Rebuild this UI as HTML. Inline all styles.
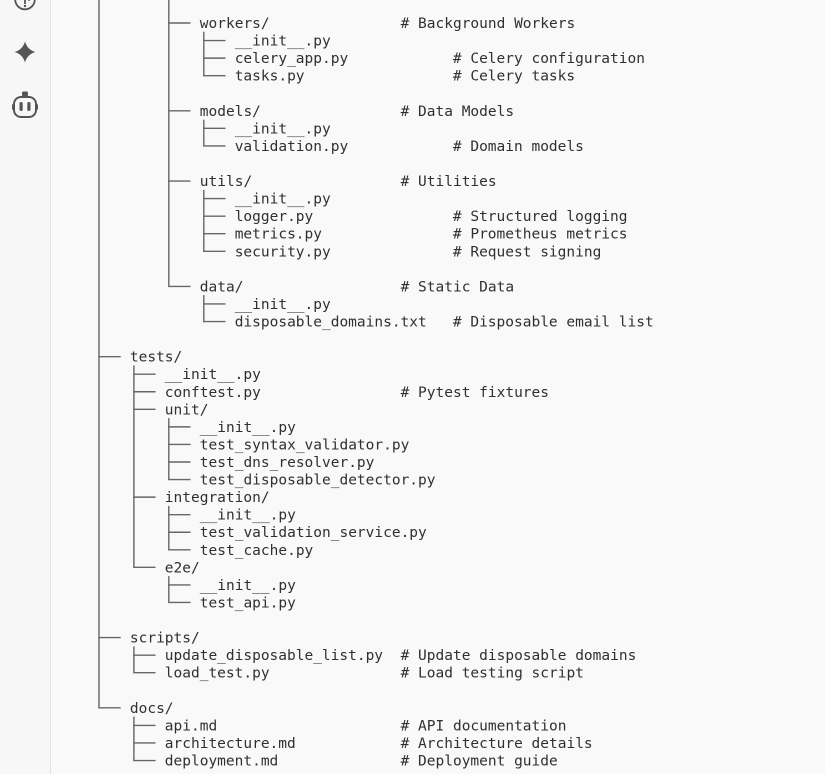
<!DOCTYPE html>
<html>
<head>
<meta charset="utf-8">
<style>
  html, body { margin:0; padding:0; }
  body { width:825px; height:774px; overflow:hidden; background:#f9f9f9; }
  svg { display:block; }
  text { font-family:"DejaVu Sans Mono","Liberation Mono",monospace; font-size:14.5px; fill:#303030; }
</style>
</head>
<body>
<svg width="825" height="774" viewBox="0 0 825 774" xmlns="http://www.w3.org/2000/svg">
  <rect x="0" y="0" width="825" height="774" fill="#f9f9f9"/>
  <!-- sidebar -->
  <rect x="0" y="0" width="50" height="774" fill="#f7f7f7"/>
  <line x1="50.5" y1="0" x2="50.5" y2="774" stroke="#e4e4e4" stroke-width="1"/>
  <!-- top icon (cut off) -->
  <circle cx="25" cy="-0.5" r="9.8" fill="none" stroke="#555" stroke-width="1.8"/>
  <line x1="25" y1="-3" x2="25" y2="4" stroke="#555" stroke-width="1.8"/>
  <circle cx="25" cy="6" r="1.2" fill="#555"/>
  <circle cx="29" cy="0" r="1" fill="#555"/>
  <!-- sparkle -->
  <path d="M25 41.5 Q27.3 49.7 35.5 52 Q27.3 54.3 25 62.5 Q22.7 54.3 14.5 52 Q22.7 49.7 25 41.5 Z" fill="#555"/>
  <!-- robot -->
  <rect x="22" y="91.5" width="6" height="5" rx="1.5" fill="#555"/>
  <rect x="14" y="97" width="22" height="20" rx="7" fill="none" stroke="#555" stroke-width="2"/>
  <rect x="12" y="104" width="3" height="6" rx="1.2" fill="#555"/>
  <rect x="35" y="104" width="3" height="6" rx="1.2" fill="#555"/>
  <rect x="19.5" y="102" width="3.2" height="9" rx="1.6" fill="#555"/>
  <rect x="27.3" y="102" width="3.2" height="9" rx="1.6" fill="#555"/>

  <!-- tree lines -->
  <g stroke="#666" stroke-width="1.4" fill="none">
    <path d="M99 0V707.84
             M168.8 0V286.4
             M203.8 31.78V75.68
             M203.8 119.58V145.92
             M203.8 189.82V251.28
             M203.8 295.18V321.52
             M133.9 365.42V567.36
             M168.8 418.1V479.56
             M168.8 505.9V549.8
             M168.8 576.14V602.48
             M133.9 646.38V672.72
             M133.9 716.62V760.52"/>
    <path d="M168.1 23H190.5
             M168.1 110.8H190.5
             M168.1 181.04H190.5
             M168.1 286.4H190.5
             M203.1 40.56H225.5
             M203.1 58.12H225.5
             M203.1 75.68H225.5
             M203.1 128.36H225.5
             M203.1 145.92H225.5
             M203.1 198.6H225.5
             M203.1 216.16H225.5
             M203.1 233.72H225.5
             M203.1 251.28H225.5
             M203.1 303.96H225.5
             M203.1 321.52H225.5
             M98.3 356.64H120.7
             M98.3 637.6H120.7
             M98.3 707.84H120.7
             M133.2 374.2H155.6
             M133.2 391.76H155.6
             M133.2 409.32H155.6
             M133.2 497.12H155.6
             M133.2 567.36H155.6
             M133.2 655.16H155.6
             M133.2 672.72H155.6
             M133.2 725.4H155.6
             M133.2 742.96H155.6
             M133.2 760.52H155.6
             M168.1 426.88H190.5
             M168.1 444.44H190.5
             M168.1 462H190.5
             M168.1 479.56H190.5
             M168.1 514.68H190.5
             M168.1 532.24H190.5
             M168.1 549.8H190.5
             M168.1 584.92H190.5
             M168.1 602.48H190.5"/>
  </g>

  <!-- names -->
  <text x="199.8" y="28">workers/</text>
  <text x="400.6" y="28"># Background Workers</text>
  <text x="234.7" y="45.56">__init__.py</text>
  <text x="234.7" y="63.12">celery_app.py</text>
  <text x="452.9" y="63.12"># Celery configuration</text>
  <text x="234.7" y="80.68">tasks.py</text>
  <text x="452.9" y="80.68"># Celery tasks</text>

  <text x="199.8" y="115.8">models/</text>
  <text x="400.6" y="115.8"># Data Models</text>
  <text x="234.7" y="133.36">__init__.py</text>
  <text x="234.7" y="150.92">validation.py</text>
  <text x="452.9" y="150.92"># Domain models</text>

  <text x="199.8" y="186.04">utils/</text>
  <text x="400.6" y="186.04"># Utilities</text>
  <text x="234.7" y="203.6">__init__.py</text>
  <text x="234.7" y="221.16">logger.py</text>
  <text x="452.9" y="221.16"># Structured logging</text>
  <text x="234.7" y="238.72">metrics.py</text>
  <text x="452.9" y="238.72"># Prometheus metrics</text>
  <text x="234.7" y="256.28">security.py</text>
  <text x="452.9" y="256.28"># Request signing</text>

  <text x="199.8" y="291.4">data/</text>
  <text x="400.6" y="291.4"># Static Data</text>
  <text x="234.7" y="308.96">__init__.py</text>
  <text x="234.7" y="326.52">disposable_domains.txt</text>
  <text x="452.9" y="326.52"># Disposable email list</text>

  <text x="129.9" y="361.64">tests/</text>
  <text x="164.8" y="379.2">__init__.py</text>
  <text x="164.8" y="396.76">conftest.py</text>
  <text x="400.6" y="396.76"># Pytest fixtures</text>
  <text x="164.8" y="414.32">unit/</text>
  <text x="199.8" y="431.88">__init__.py</text>
  <text x="199.8" y="449.44">test_syntax_validator.py</text>
  <text x="199.8" y="467">test_dns_resolver.py</text>
  <text x="199.8" y="484.56">test_disposable_detector.py</text>
  <text x="164.8" y="502.12">integration/</text>
  <text x="199.8" y="519.68">__init__.py</text>
  <text x="199.8" y="537.24">test_validation_service.py</text>
  <text x="199.8" y="554.8">test_cache.py</text>
  <text x="164.8" y="572.36">e2e/</text>
  <text x="199.8" y="589.92">__init__.py</text>
  <text x="199.8" y="607.48">test_api.py</text>

  <text x="129.9" y="642.6">scripts/</text>
  <text x="164.8" y="660.16">update_disposable_list.py</text>
  <text x="400.6" y="660.16"># Update disposable domains</text>
  <text x="164.8" y="677.72">load_test.py</text>
  <text x="400.6" y="677.72"># Load testing script</text>

  <text x="129.9" y="712.84">docs/</text>
  <text x="164.8" y="730.4">api.md</text>
  <text x="400.6" y="730.4"># API documentation</text>
  <text x="164.8" y="747.96">architecture.md</text>
  <text x="400.6" y="747.96"># Architecture details</text>
  <text x="164.8" y="765.52">deployment.md</text>
  <text x="400.6" y="765.52"># Deployment guide</text>
</svg>
</body>
</html>
